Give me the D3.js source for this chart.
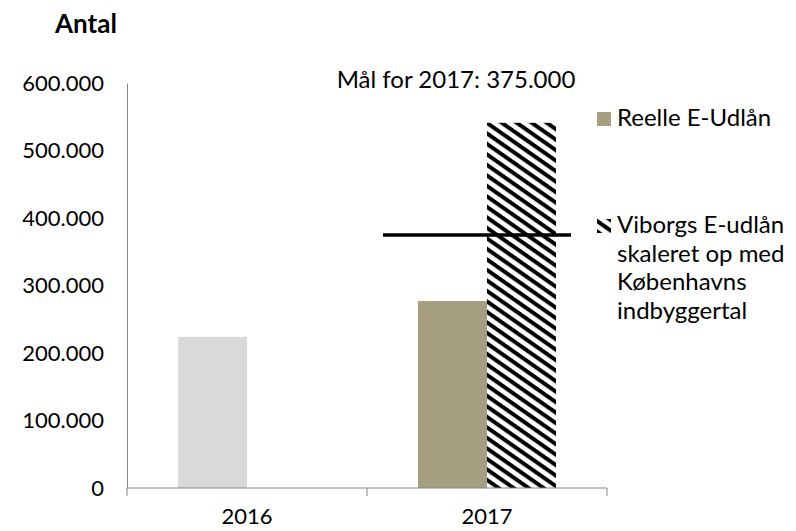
<!DOCTYPE html>
<html><head><meta charset="utf-8">
<script src="https://cdn.jsdelivr.net/npm/d3@7"></script>
<style>body{margin:0;background:#fff}text{font-family:Lato,"Open Sans",sans-serif;fill:#000}</style>
</head><body><svg id="c" width="796" height="531"></svg>
<script>
const categories = ["2016", "2017"];
const seriesNames = ["Reelle E-Udlån", "Viborgs E-udlån skaleret op med Københavns indbyggertal"];
const realValues = [224000, 277000];
const scaledValues = [null, 541000];
const target2017 = 375000;
const yTicks = [0, 100000, 200000, 300000, 400000, 500000, 600000];
const barColors = ["#d9d9d9", "#a69f7f"];

const svg = d3.select("#c");
const mLeft = 127, mRight = 607, mTop = 83, mBottom = 488;
const fs = 22, fsText = 24;

const defs = svg.append("defs");
const pat = defs.append("pattern").attr("id","hatch").attr("patternUnits","userSpaceOnUse")
  .attr("width", 8.6).attr("height", 8.6).attr("patternTransform","rotate(35)");
pat.append("rect").attr("width",8.6).attr("height",8.6).attr("fill","#fff");
pat.append("rect").attr("width",8.6).attr("height",4).attr("fill","#000");

const x0 = d3.scaleBand().domain(categories).range([mLeft, mRight]).paddingInner(0.425).paddingOuter(0.2125);
const x1 = d3.scaleBand().domain([0,1]).range([0, x0.bandwidth()]);
const y = d3.scaleLinear().domain([0, 600000]).range([mBottom, mTop]);
const fmt = v => d3.format(",")(v).replace(/,/g, ".");

// bars
categories.forEach((c, i) => {
  if (realValues[i] != null)
    svg.append("rect").attr("x", x0(c) + x1(0)).attr("width", x1.bandwidth())
      .attr("y", y(realValues[i])).attr("height", y(0) - y(realValues[i])).attr("fill", barColors[i]);
  if (scaledValues[i] != null)
    svg.append("rect").attr("x", x0(c) + x1(1)).attr("width", x1.bandwidth())
      .attr("y", y(scaledValues[i])).attr("height", y(0) - y(scaledValues[i])).attr("fill", "url(#hatch)");
});

// target line
const tx = x0("2017");
svg.append("line").attr("x1", tx - 35).attr("x2", tx + x0.bandwidth() + 15)
  .attr("y1", y(target2017)).attr("y2", y(target2017)).attr("stroke", "#000").attr("stroke-width", 3.5);
svg.append("text").attr("x", 456).attr("y", 80).attr("dy", "0.35em").attr("text-anchor","middle")
  .attr("font-size", fsText).text("Mål for 2017: " + fmt(target2017));

// axes
const gy = svg.append("g").attr("transform", `translate(${mLeft},0)`)
  .call(d3.axisLeft(y).tickValues(yTicks).tickSize(0).tickPadding(23).tickFormat(fmt));
gy.select(".domain").attr("stroke", "#868686");
gy.selectAll("text").attr("font-size", fs).attr("font-family", "Lato").attr("fill","#000");

const gx = svg.append("g").attr("transform", `translate(0,${mBottom})`);
gx.append("line").attr("x1", mLeft).attr("x2", mRight).attr("stroke", "#868686");
const bounds = [mLeft, ...categories.map(c => x0(c) + x0.bandwidth() + x0.step() * x0.paddingInner() / 2)];
bounds[bounds.length - 1] = mRight;
bounds.forEach(b => gx.append("line").attr("x1", b).attr("x2", b).attr("y1", 0).attr("y2", 8).attr("stroke", "#868686"));
categories.forEach(c => gx.append("text").attr("x", x0(c) + x0.bandwidth() / 2).attr("y", 28)
  .attr("dy", "0.35em").attr("text-anchor", "middle").attr("font-size", fs).text(c));

// title
svg.append("text").attr("x", 55).attr("y", 24).attr("dy", "0.35em").attr("font-size", 26)
  .attr("font-weight", "bold").text("Antal");

// legend
svg.append("rect").attr("x", 597).attr("y", 112).attr("width", 14).attr("height", 14).attr("fill", barColors[1]);
svg.append("text").attr("x", 617).attr("y", 118).attr("dy", "0.35em").attr("font-size", fsText).text(seriesNames[0]);
svg.append("rect").attr("x", 597).attr("y", 219).attr("width", 14).attr("height", 14).attr("fill", "url(#hatch)");
const lines = ["Viborgs E-udlån", "skaleret op med", "Københavns", "indbyggertal"];
lines.forEach((l, i) => svg.append("text").attr("x", 617).attr("y", 225 + i * 28.5).attr("dy", "0.35em")
  .attr("font-size", fsText).text(l));
</script></body></html>
